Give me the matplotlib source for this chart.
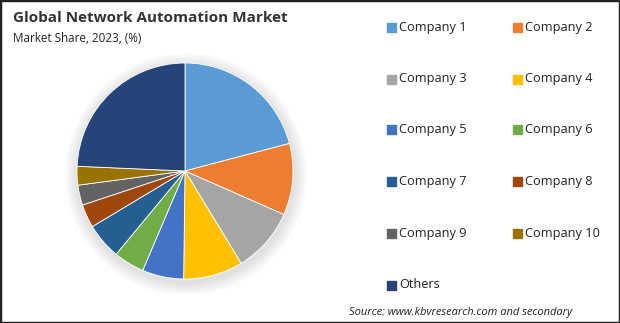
import matplotlib
matplotlib.use("Agg")
import matplotlib.pyplot as plt
from matplotlib.patches import Rectangle, Circle

categories = ["Company 1", "Company 2", "Company 3", "Company 4", "Company 5",
              "Company 6", "Company 7", "Company 8", "Company 9", "Company 10", "Others"]
shares = [20.9, 10.7, 9.7, 8.9, 6.2, 4.6, 5.4, 3.5, 3.0, 2.8, 24.3]
colors = ["#5B9BD5", "#ED7D31", "#A5A5A5", "#FFC000", "#4472C4", "#70AD47",
          "#255E91", "#9E480E", "#636363", "#997300", "#264478"]

W, H = 620, 323
fig = plt.figure(figsize=(W / 100, H / 100), dpi=100)
fig.patch.set_facecolor("white")

# pie axes
cx, cy, r = 185, 171, 108
ax = fig.add_axes([(cx - r) / W, (H - cy - r) / H, 2 * r / W, 2 * r / H])
ax.axis("off")
# soft shadow
for i in range(6):
    ax.add_patch(Circle((0.01, -0.03), 1.0 + 0.02 * (i + 1), color="black", alpha=0.018,
                        lw=0, zorder=0, clip_on=False))
ax.pie(shares, colors=colors, startangle=90, counterclock=False, radius=1.0,
       wedgeprops=dict(edgecolor="white", linewidth=0.6))
ax.set_xlim(-1, 1)
ax.set_ylim(-1, 1)
ax.set_aspect("equal")

fam = ["Open Sans", "DejaVu Sans"]
fig.text(13 / W, 1 - 18 / H, "Global Network Automation Market", fontsize=11,
         fontweight="bold", color="#333333", va="center", ha="left", family=fam)
fig.text(13 / W, 1 - 38 / H, "Market Share, 2023, (%)", fontsize=8.4, color="#222222",
         va="center", ha="left", family=fam)

# legend
rows_y = [27, 79, 130, 181, 233, 285]
cols_x = [387, 513]
for i, (name, c) in enumerate(zip(categories, colors)):
    row, col = divmod(i, 2)
    x = cols_x[col]
    y = rows_y[row]
    fig.patches.append(Rectangle((x / W, 1 - (y + 4.5) / H), 9 / W, 9 / H,
                                 transform=fig.transFigure, color=c, figure=fig))
    fig.text((x + 12) / W, 1 - y / H, name, fontsize=9.2, color="#222222",
             va="center", ha="left", family=fam)

fig.text(572 / W, 1 - 313 / H, "Source: www.kbvresearch.com and secondary", fontsize=8,
         style="italic", color="#222222", va="center", ha="right", family=fam)

# border
fig.patches.append(Rectangle((0, 0), 1, 1, transform=fig.transFigure, fill=False,
                             edgecolor="#222222", linewidth=2.5, figure=fig))

fig.savefig("out.png", dpi=100)
